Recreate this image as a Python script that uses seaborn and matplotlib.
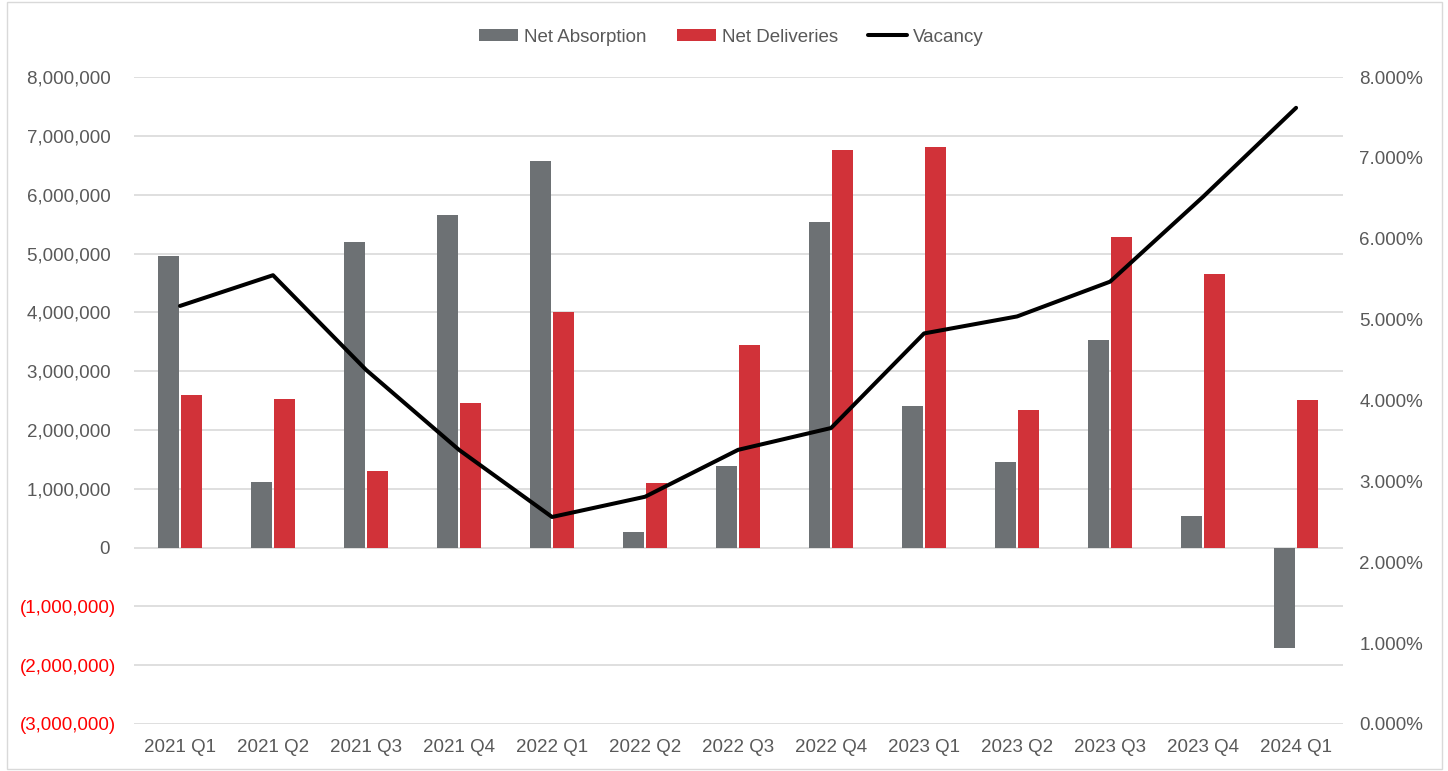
import matplotlib
matplotlib.use("Agg")
import matplotlib.pyplot as plt
import matplotlib.ticker as mticker
from matplotlib.patches import Patch, Rectangle
from matplotlib.lines import Line2D
import seaborn as sns
import pandas as pd

quarters = ["2021 Q1", "2021 Q2", "2021 Q3", "2021 Q4", "2022 Q1", "2022 Q2", "2022 Q3",
            "2022 Q4", "2023 Q1", "2023 Q2", "2023 Q3", "2023 Q4", "2024 Q1"]
net_absorption = [4960000, 1120000, 5200000, 5660000, 6570000, 270000, 1380000,
                  5540000, 2410000, 1460000, 3530000, 540000, -1700000]
net_deliveries = [2600000, 2530000, 1310000, 2460000, 4010000, 1090000, 3450000,
                  6760000, 6810000, 2340000, 5280000, 4650000, 2510000]
vacancy = [5.17, 5.55, 4.38, 3.39, 2.56, 2.81, 3.39, 3.66, 4.83, 5.04, 5.47, 6.52, 7.62]

GRAY = "#6D7174"
RED = "#D13239"
TXT = "#595959"
FS = 13.5

sns.set_theme(style="white")
plt.rcParams["font.family"] = ["Liberation Sans", "DejaVu Sans"]

df = pd.DataFrame({
    "Quarter": quarters * 2,
    "Series": ["Net Absorption"] * len(quarters) + ["Net Deliveries"] * len(quarters),
    "Value": net_absorption + net_deliveries,
})

fig = plt.figure(figsize=(14.48, 7.71), dpi=100)
ax = fig.add_axes([0.0922, 0.061, 0.835, 0.839])

sns.barplot(data=df, x="Quarter", y="Value", hue="Series", order=quarters,
            hue_order=["Net Absorption", "Net Deliveries"],
            palette=[GRAY, RED], width=0.5, gap=0.1, saturation=1,
            ax=ax, legend=False, edgecolor="none")

ax.set_ylim(-3000000, 8000000)
ax.set_xlim(-0.5, len(quarters) - 0.5)
ax.yaxis.set_major_locator(mticker.MultipleLocator(1000000))
ax.yaxis.grid(True, color="#D9D9D9", linewidth=1.2)
ax.set_axisbelow(True)
for s in ax.spines.values():
    s.set_visible(False)
ax.set_xlabel("")
ax.set_ylabel("")

def left_fmt(v, pos):
    if v < 0:
        return "({:,.0f})".format(-v)
    return "{:,.0f}\u2008".format(v)

ax.yaxis.set_major_formatter(mticker.FuncFormatter(left_fmt))
ax.tick_params(axis="both", length=0, labelsize=FS, labelcolor=TXT)
ax.tick_params(axis="y", pad=12.5)
ax.tick_params(axis="x", pad=11)
for lbl, v in zip(ax.get_yticklabels(), ax.get_yticks()):
    if v < 0:
        lbl.set_color("#FF0000")

ax2 = ax.twinx()
sns.lineplot(x=list(range(len(quarters))), y=vacancy, ax=ax2, color="black",
             linewidth=2.9, legend=False)
ax2.set_ylim(0, 8)
ax2.yaxis.set_major_locator(mticker.MultipleLocator(1))
ax2.yaxis.set_major_formatter(mticker.FuncFormatter(lambda v, p: "{:.3f}%".format(v)))
ax2.tick_params(axis="y", length=0, labelsize=FS, labelcolor=TXT, pad=12)
for s in ax2.spines.values():
    s.set_visible(False)
ax2.grid(False)

handles = [Patch(facecolor=GRAY, edgecolor="none"),
           Patch(facecolor=RED, edgecolor="none"),
           Line2D([0], [0], color="black", linewidth=2.9)]
fig.legend(handles, ["Net Absorption", "Net Deliveries", "Vacancy"],
           loc="center", bbox_to_anchor=(0.505, 0.952), ncol=3, frameon=False,
           fontsize=FS, labelcolor=TXT, handlelength=2.1, handleheight=0.6,
           handletextpad=0.3, columnspacing=1.6)

fig.patches.append(Rectangle((0.005, 0.003), 0.991, 0.994, transform=fig.transFigure,
                             fill=False, edgecolor="#D9D9D9", linewidth=1))

fig.savefig("out.png", dpi=100)
